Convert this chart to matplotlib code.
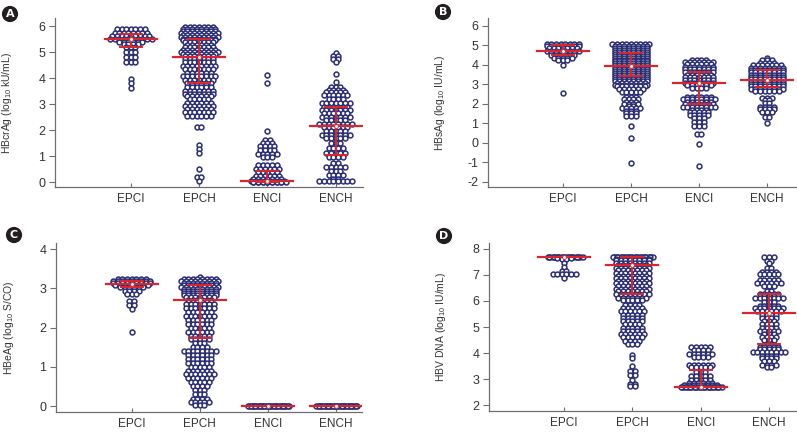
import numpy as np
import matplotlib
matplotlib.use("Agg")
import matplotlib.pyplot as plt

plt.rcParams['font.family'] = ['Liberation Sans Narrow', 'Liberation Sans', 'DejaVu Sans']
plt.rcParams['mathtext.fontset'] = 'custom'
plt.rcParams['mathtext.rm'] = 'Liberation Sans'
plt.rcParams['axes.unicode_minus'] = False

groups = ['EPCI', 'EPCH', 'ENCI', 'ENCH']

# Panel A - HBcrAg: dot rows (value, number of dots) per group
a_levels = [
    [5.87, 5.75, 5.62, 5.5, 5.4, 5.3, 5.18, 5.0, 4.82, 4.62, 3.96, 3.8, 3.62],
    [5.97, 5.88, 5.8, 5.72, 5.65, 5.58, 5.52, 5.45, 5.38, 5.28, 5.18, 5.08, 5.0, 4.92,
     4.83, 4.72, 4.6, 4.47, 4.33, 4.2, 4.07, 3.93, 3.8, 3.65, 3.52, 3.4, 3.3, 3.18,
     3.05, 2.92, 2.8, 2.68, 2.55, 2.12, 1.42, 1.27, 1.12, 0.52, 0.2, 0.06],
    [4.12, 3.8, 1.97, 1.62, 1.5, 1.38, 1.22, 1.07, 0.95, 0.65, 0.5, 0.37, 0.25, 0.12,
     0.03, 0.0, 0.0],
    [4.97, 4.85, 4.72, 4.6, 4.15, 3.85, 3.65, 3.55, 3.45, 3.35, 3.2, 3.05, 2.9, 2.78,
     2.65, 2.52, 2.38, 2.22, 2.1, 1.95, 1.8, 1.68, 1.5, 1.32, 1.12, 0.95, 0.75, 0.57,
     0.42, 0.28, 0.12, 0.04],
]
a_counts = [
    [7, 8, 9, 10, 6, 4, 3, 3, 3, 3, 1, 1, 1],
    [7, 8, 8, 9, 8, 9, 8, 8, 7, 6, 7, 8, 9, 8, 7, 7, 7, 8, 7, 6, 8, 7, 6, 6, 7, 7, 6, 5,
     6, 7, 6, 7, 6, 2, 1, 1, 1, 1, 2, 1],
    [1, 1, 1, 2, 3, 4, 4, 5, 3, 5, 6, 5, 6, 7, 8, 7, 8],
    [1, 2, 2, 1, 1, 1, 3, 4, 5, 6, 4, 7, 6, 7, 6, 7, 5, 8, 6, 5, 7, 5, 3, 4, 5, 4, 2, 5,
     3, 4, 2, 8],
]
a_med = [5.5, 4.82, 0.05, 2.17]
a_q1 = [5.2, 3.8, 0.02, 1.06]
a_q3 = [5.68, 5.5, 0.42, 2.89]

# Panel B - HBsAg
b_levels = [
    [5.1, 4.98, 4.86, 4.74, 4.62, 4.5, 4.38, 4.27, 4.0, 2.58],
    [5.08, 4.98, 4.88, 4.78, 4.68, 4.58, 4.48, 4.38, 4.28, 4.18, 4.08, 3.98, 3.88, 3.78,
     3.68, 3.58, 3.48, 3.38, 3.28, 3.18, 3.08, 2.98, 2.9, 2.75, 2.62, 2.37, 2.25, 2.12,
     2.02, 1.88, 1.77, 1.62, 1.52, 1.4, 0.85, 0.25, -1.03],
    [4.28, 4.17, 4.05, 3.92, 3.78, 3.64, 3.5, 3.36, 3.22, 3.08, 2.95, 2.8, 2.37, 2.25,
     2.12, 2.0, 1.85, 1.7, 1.57, 1.43, 1.26, 1.05, 0.88, 0.47, -0.07, -1.2],
    [4.35, 4.25, 4.12, 3.98, 3.86, 3.74, 3.62, 3.5, 3.38, 3.26, 3.14, 3.02, 2.9, 2.78,
     2.66, 2.33, 2.2, 2.05, 1.85, 1.72, 1.58, 1.35, 1.0],
]
b_counts = [
    [8, 8, 7, 8, 6, 6, 5, 3, 1, 1],
    [9, 8, 8, 8, 8, 8, 8, 8, 8, 8, 8, 8, 8, 8, 8, 8, 8, 8, 8, 8, 7, 8, 7, 6, 5, 3, 4, 3,
     4, 2, 5, 3, 3, 3, 1, 1, 1],
    [4, 7, 6, 7, 7, 7, 6, 7, 7, 7, 6, 4, 6, 8, 6, 7, 8, 4, 5, 5, 3, 3, 3, 2, 1, 1],
    [1, 3, 4, 7, 8, 8, 8, 8, 8, 8, 8, 8, 8, 8, 6, 3, 2, 2, 4, 4, 3, 2, 1],
]
b_med = [4.72, 3.95, 3.1, 3.22]
b_q1 = [4.5, 3.43, 2.02, 2.87]
b_q3 = [5.02, 4.62, 3.66, 3.72]

# Panel C - HBeAg
c_levels = [
    [3.24, 3.19, 3.14, 3.09, 3.03, 2.93, 2.87, 2.68, 2.58, 2.48, 1.9],
    [3.3, 3.24, 3.19, 3.14, 3.09, 3.04, 2.99, 2.94, 2.89, 2.84, 2.78, 2.7, 2.6, 2.5,
     2.4, 2.3, 2.2, 2.1, 2.0, 1.9, 1.8, 1.7, 1.6, 1.5, 1.4, 1.3, 1.2, 1.1, 1.0, 0.9,
     0.82, 0.72, 0.62, 0.52, 0.4, 0.3, 0.18, 0.1, 0.02],
    [0.0, 0.0, 0.0, 0.0],
    [0.0, 0.0, 0.0, 0.0],
]
c_counts = [
    [7, 9, 9, 8, 6, 4, 3, 2, 2, 1, 1],
    [1, 8, 9, 8, 8, 9, 8, 8, 8, 8, 7, 6, 7, 7, 6, 7, 6, 6, 5, 6, 5, 5, 3, 4, 8, 6, 6, 6,
     5, 6, 7, 6, 5, 4, 3, 3, 4, 5, 3],
    [9, 9, 9, 9],
    [9, 9, 9, 9],
]
c_med = [3.12, 2.7, 0.0, 0.0]
c_q1 = [3.04, 1.74, 0.0, 0.0]
c_q3 = [3.18, 3.1, 0.0, 0.0]

# Panel D - HBV DNA
d_levels = [
    [7.68, 7.68, 7.68, 7.64, 7.6, 7.48, 7.32, 7.17, 7.02, 6.88],
    [7.68, 7.68, 7.68, 7.62, 7.56, 7.48, 7.38, 7.28, 7.18, 7.08, 6.98, 6.88, 6.78, 6.68,
     6.58, 6.48, 6.38, 6.25, 6.12, 6.02, 5.85, 5.72, 5.6, 5.48, 5.35, 5.22, 5.1, 4.98,
     4.85, 4.72, 4.6, 4.48, 4.35, 3.92, 3.8, 3.5, 3.3, 3.15, 2.95, 2.82, 2.72],
    [4.22, 4.1, 3.97, 3.85, 3.55, 3.45, 3.28, 3.12, 2.97, 2.86, 2.78, 2.7, 2.7, 2.7],
    [7.68, 7.55, 7.45, 7.25, 7.12, 7.02, 6.82, 6.7, 6.58, 6.38, 6.25, 6.12, 5.95, 5.82,
     5.72, 5.6, 5.48, 5.35, 5.22, 5.1, 4.95, 4.85, 4.72, 4.6, 4.5, 4.35, 4.25, 4.15,
     4.02, 3.9, 3.8, 3.68, 3.55, 3.45],
]
d_counts = [
    [8, 8, 7, 4, 2, 1, 1, 2, 6, 1],
    [9, 9, 9, 8, 8, 8, 7, 8, 7, 8, 7, 8, 7, 8, 7, 8, 7, 8, 7, 5, 4, 5, 6, 5, 5, 5, 4, 5,
     5, 6, 5, 4, 3, 1, 1, 1, 2, 2, 1, 2, 2],
    [5, 4, 6, 4, 6, 5, 3, 5, 5, 6, 8, 9, 9, 9],
    [3, 2, 1, 2, 4, 5, 5, 6, 3, 2, 5, 7, 3, 5, 7, 6, 4, 4, 3, 4, 4, 5, 3, 4, 3, 2, 5, 5,
     8, 4, 4, 3, 4, 2],
]
d_med = [7.68, 7.4, 2.7, 5.52]
d_q1 = [7.68, 6.25, 2.7, 4.33]
d_q3 = [7.68, 7.68, 3.33, 6.25]

navy = '#2b2e74'
red = '#d8262c'
grey = '#6d6e71'
step = 0.068


def swarm(center, levels, counts):
    # simple row-wise beeswarm: dots of one row placed side by side
    xs, ys, seen = [], [], {}
    for lv, n in zip(levels, counts):
        k = seen.get(lv, 0)
        seen[lv] = k + 1
        shift = [0, 0.5, -0.25, 0.25][k % 4] * step
        off = (np.arange(n) - (n - 1) / 2) * step + shift
        xs.extend(center + off)
        ys.extend([lv] * n)
    return xs, ys


def panel(rect, letter, letter_xy, ylabel, levels, counts, med, q1, q3,
          ylim, yticks, xlim):
    ax = fig.add_axes(rect)
    pos = np.arange(1, 5)
    for i in range(4):
        xs, ys = swarm(pos[i], levels[i], counts[i])
        ax.plot(xs, ys, 'o', ms=3.5, mfc='white', mec=navy, mew=1.1, zorder=2,
                clip_on=False)
    for i in range(4):
        ax.plot([pos[i] - 0.38, pos[i] + 0.38], [med[i]] * 2, color=red, lw=1.6, zorder=3)
        ax.plot([pos[i], pos[i]], [q1[i], q3[i]], color=red, lw=1.4, zorder=3)
        for q in (q1[i], q3[i]):
            ax.plot([pos[i] - 0.16, pos[i] + 0.16], [q, q], color=red, lw=1.4, zorder=3)
        ax.plot(pos[i], med[i], 'o', ms=2.8, mfc='white', mec=red, mew=0.6, zorder=4)
    ax.set_xlim(*xlim)
    ax.set_ylim(*ylim)
    ax.set_yticks(yticks)
    ax.set_xticks(pos)
    ax.set_xticklabels(groups)
    for s in ('top', 'right'):
        ax.spines[s].set_visible(False)
    for s in ('left', 'bottom'):
        ax.spines[s].set_color(grey)
        ax.spines[s].set_linewidth(0.9)
    ax.tick_params(axis='x', direction='in', length=3, color=grey, pad=4, labelsize=8.5,
                   labelcolor='#333333')
    ax.tick_params(axis='y', direction='out', length=4, color=grey, pad=3, labelsize=9,
                   labelcolor='#333333')
    ax.set_ylabel(ylabel, fontsize=7.5, color='#333333')
    ax.yaxis.set_label_coords(-0.132, 0.5)
    fig.text(letter_xy[0] / 797, 1 - letter_xy[1] / 433, letter, color='white',
             fontsize=8, fontweight='bold', family='DejaVu Sans', ha='center', va='center',
             bbox=dict(boxstyle='circle,pad=0.28', fc='#231f20', ec='none'))
    return ax


fig = plt.figure(figsize=(7.97, 4.33), dpi=100)

panel([55 / 797, 246 / 433, 308 / 797, 169 / 433], 'A', (10, 14),
      'HBcrAg (log$_{10}$ kU/mL)', a_levels, a_counts, a_med, a_q1, a_q3,
      (-0.19, 6.31), range(0, 7), (-0.11, 4.4))
panel([488 / 797, 246 / 433, 309 / 797, 169 / 433], 'B', (443, 12),
      'HBsAg (log$_{10}$ IU/mL)', b_levels, b_counts, b_med, b_q1, b_q3,
      (-2.26, 6.41), range(-2, 7), (-0.10, 4.44))
panel([56 / 797, 21 / 433, 306 / 797, 169 / 433], 'C', (14, 235),
      'HBeAg (log$_{10}$ S/CO)', c_levels, c_counts, c_med, c_q1, c_q3,
      (-0.15, 4.16), range(0, 5), (-0.11, 4.38))
panel([489 / 797, 22 / 433, 308 / 797, 168 / 433], 'D', (444, 236),
      'HBV DNA (log$_{10}$ IU/mL)', d_levels, d_counts, d_med, d_q1, d_q3,
      (1.77, 8.23), range(2, 9), (-0.10, 4.41))

fig.savefig('out.png', dpi=100)
